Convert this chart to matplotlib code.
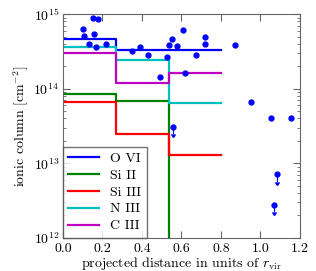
import numpy as np
import matplotlib
matplotlib.use("Agg")
import matplotlib.pyplot as plt

plt.rcParams['font.family'] = ['cmr10', 'DejaVu Serif']
plt.rcParams['mathtext.fontset'] = 'cm'
plt.rcParams['axes.formatter.use_mathtext'] = True
plt.rcParams['font.size'] = 10

# bin edges in r/rvir
edges = [0.0, 0.267, 0.535, 0.80]
ions = ['O VI', 'Si II', 'Si III', 'N III', 'C III']
colors = ['b', 'g', 'r', 'c', 'm']
# column densities per bin (cm^-2)
ovi = [4.6e14, 3.3e14, 3.3e14]
siii = [8.5e13, 6.9e13, 1e11]
siiii = [6.6e13, 2.5e13, 1.3e13]
niii = [3.6e14, 2.4e14, 6.5e13]
ciii = [3.0e14, 1.2e14, 1.6e14]
cols = [ovi, siii, siiii, niii, ciii]

# observed O VI detections
obs_x = [0.101, 0.108, 0.150, 0.179, 0.159, 0.130, 0.169, 0.216, 0.349, 0.388,
         0.429, 0.491, 0.608, 0.555, 0.537, 0.576, 0.721, 0.721, 0.672, 0.528,
         0.619, 0.871, 0.955, 1.055, 1.154]
obs_y = [6.3e14, 5.1e14, 8.9e14, 8.7e14, 5.4e14, 4.0e14, 3.65e14, 4.0e14, 3.2e14, 3.6e14,
         2.8e14, 1.45e14, 6.2e14, 4.7e14, 3.9e14, 3.7e14, 4.9e14, 4.0e14, 2.85e14, 2.7e14,
         1.6e14, 3.9e14, 6.6e13, 4.1e13, 4.1e13]
# upper limits
lim_x = [0.557, 1.084, 1.068]
lim_y = [3.1e13, 7.1e12, 2.8e12]

fig = plt.figure(figsize=(3.16, 2.71), dpi=100)
ax = fig.add_axes([0.199, 0.122, 0.75, 0.826])

for name, c, v in zip(ions, colors, cols):
    ax.step(edges, v + [v[-1]], where='post', color=c, lw=1.6, label=name)

ax.plot(obs_x, obs_y, 'o', color='b', ms=3.5, mec='b')
ax.errorbar(lim_x, lim_y, yerr=[0.2 * y for y in lim_y], uplims=True, fmt='o',
            color='b', ms=3.5, lw=0.8, capsize=1.5)

ax.set_yscale('log')
ax.set_xlim(0, 1.2)
ax.set_ylim(1e12, 1e15)
ax.set_xticks([0.0, 0.2, 0.4, 0.6, 0.8, 1.0, 1.2])
ax.set_xticklabels(['0.0', '0.2', '0.4', '0.6', '0.8', '1.0', '1.2'])
ax.set_xlabel(r'projected distance in units of $r_{\rm vir}$', labelpad=0)
ax.set_ylabel(r'ionic column [cm$^{-2}$]', labelpad=2)

ax.tick_params(which='both', direction='in', top=True, right=True, colors='0.4',
               labelcolor='k', pad=2.5)
ax.tick_params(axis='x', pad=3.5)
ax.tick_params(which='major', length=5)
ax.tick_params(which='minor', length=2.5)
for s in ax.spines.values():
    s.set_color('0.4')

leg = ax.legend(loc='lower left', borderaxespad=0, fancybox=False, fontsize=10,
                handlelength=2.2, labelspacing=0.3, borderpad=0.4)
leg.get_frame().set_edgecolor('0.3')

fig.savefig('out.png', dpi=100)
